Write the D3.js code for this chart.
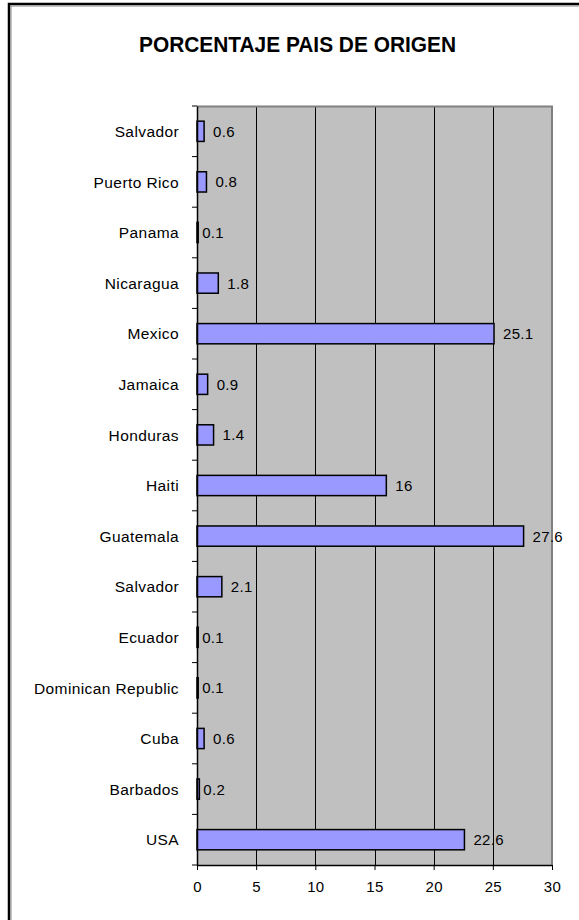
<!DOCTYPE html>
<html><head><meta charset="utf-8">
<script src="https://cdn.jsdelivr.net/npm/d3@7"></script>
<style>body{margin:0;background:#fff}svg{display:block}</style>
</head><body>
<script>
const categories = ["Salvador","Puerto Rico","Panama","Nicaragua","Mexico","Jamaica","Honduras","Haiti","Guatemala","Salvador ","Ecuador","Dominican Republic","Cuba","Barbados","USA"];
const values = [0.6,0.8,0.1,1.8,25.1,0.9,1.4,16,27.6,2.1,0.1,0.1,0.6,0.2,22.6];
const xTicks = [0,5,10,15,20,25,30];
const title = "PORCENTAJE PAIS DE ORIGEN";

const W=579,H=920;
const FONT="Liberation Sans, Arial, sans-serif";
const svg=d3.select("body").append("svg").attr("width",W).attr("height",H);
svg.append("rect").attr("x",0).attr("y",0).attr("width",W).attr("height",H).attr("fill","#fff");
// outer frame
svg.append("path").attr("d",`M9,${H+5} V4 H${W+5}`).attr("fill","none").attr("stroke","#000").attr("stroke-width",2.5);
svg.append("path").attr("d",`M11,${H+5} V6 H${W+5}`).attr("fill","none").attr("stroke","#888").attr("stroke-width",1);

const L=197,R=552,T=106,B=865;
const x=d3.scaleLinear().domain([0,30]).range([L,R]);
const y=d3.scaleBand().domain(d3.range(categories.length)).range([T,B]).paddingInner(0.6).paddingOuter(0.3);
const yb=d3.scaleBand().domain(d3.range(categories.length)).range([T,B]);

svg.append("text").attr("x",139).attr("y",52)
  .attr("font-family",FONT).attr("font-weight","bold").attr("font-size",22)
  .attr("textLength",317).attr("lengthAdjust","spacingAndGlyphs").text(title);

svg.append("rect").attr("x",L).attr("y",T).attr("width",R-L).attr("height",B-T).attr("fill","#c0c0c0");
// gridlines
svg.append("g").selectAll("line").data(xTicks.filter(d=>d>0&&d<30)).join("line")
  .attr("x1",d=>Math.round(x(d))+0.5).attr("x2",d=>Math.round(x(d))+0.5).attr("y1",T).attr("y2",B)
  .attr("stroke","#000").attr("stroke-width",1);
// plot border
svg.append("path").attr("d",`M${L},${T+0.5} H${R} V${B}`).attr("fill","none").attr("stroke","#808080").attr("stroke-width",2);

// bars
svg.append("g").selectAll("rect").data(values).join("rect")
  .attr("x",x(0)).attr("y",(d,i)=>y(i)).attr("width",d=>x(d)-x(0)).attr("height",y.bandwidth())
  .attr("fill","#9999ff").attr("stroke","#000").attr("stroke-width",1.5);

// value labels
svg.append("g").selectAll("text").data(values).join("text")
  .attr("x",d=>x(d)+ (d<0.5?4:9)).attr("y",(d,i)=>yb(i)+yb.bandwidth()/2+5.5)
  .attr("font-family",FONT).attr("font-size",15).attr("letter-spacing",0.3).attr("fill","#000")
  .text(d=>d);

// y axis
const yAxis=d3.axisLeft(yb).tickSize(0).tickFormat(i=>categories[i].trim());
const gy=svg.append("g").attr("transform",`translate(${L},0)`).call(yAxis);
gy.select(".domain").attr("stroke","#000").attr("stroke-width",1.5);
gy.selectAll("text").attr("x",-18).attr("dy",null).attr("y",5.7).attr("font-family",FONT).attr("font-size",15.5).attr("letter-spacing",0.4).attr("fill","#000");
// y ticks at band boundaries
svg.append("g").selectAll("line").data(d3.range(categories.length+1)).join("line")
  .attr("x1",L-5).attr("x2",L).attr("y1",i=>T+i*yb.step()).attr("y2",i=>T+i*yb.step())
  .attr("stroke","#000").attr("stroke-width",1);

// x axis
const xAxis=d3.axisBottom(x).tickValues(xTicks).tickSize(5).tickSizeOuter(0);
const gx=svg.append("g").attr("transform",`translate(0,${B})`).call(xAxis);
gx.select(".domain").attr("stroke","#000").attr("stroke-width",1.5);
gx.selectAll("text").attr("dy",null).attr("y",27).attr("font-family",FONT).attr("font-size",15).attr("letter-spacing",0.3).attr("fill","#000");
gx.selectAll(".tick line").attr("stroke","#000");
</script>
</body></html>
